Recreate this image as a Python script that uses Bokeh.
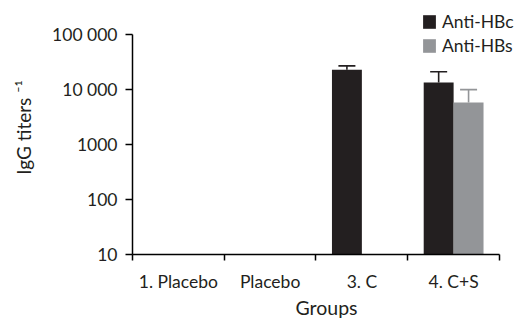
import math
from bokeh.plotting import figure
from bokeh.models import (Range1d, FixedTicker, ColumnDataSource, Whisker, TeeHead,
                          Legend, LegendItem)
from bokeh.embed import file_html
from bokeh.resources import INLINE

groups = ["1. Placebo", "Placebo", "3. C", "4. C+S"]
anti_hbc = [float("nan"), float("nan"), 23000, 13400]
anti_hbc_sd = [float("nan"), float("nan"), 4000, 7700]
anti_hbs = [float("nan"), float("nan"), float("nan"), 5800]
anti_hbs_sd = [float("nan"), float("nan"), float("nan"), 4200]
y_ticks = [10, 100, 1000, 10000, 100000]
y_tick_labels = ["10", "100", "1000", "10 000", "100 000"]

FONT = "Lato"
DARK = "#231f20"
GREY = "#939598"

p = figure(width=520, height=321, output_backend="svg", toolbar_location=None,
           y_axis_type="log", x_range=Range1d(0, 4.229),
           y_range=Range1d(10, 10 ** 5.621),
           min_border_left=132, min_border_right=0, min_border_top=0,
           min_border_bottom=60)
p.outline_line_color = None
p.grid.grid_line_color = None
p.background_fill_color = "white"

centers = [i + 0.5 for i in range(len(groups))]
off = 0.163
w = 0.326
x_hbc = [c - off for c in centers]
x_hbs = [c + off for c in centers]

src_c = ColumnDataSource(dict(x=x_hbc, top=anti_hbc,
                              upper=[v + e for v, e in zip(anti_hbc, anti_hbc_sd)]))
src_s = ColumnDataSource(dict(x=x_hbs, top=anti_hbs,
                              upper=[v + e for v, e in zip(anti_hbs, anti_hbs_sd)]))

r1 = p.vbar(x="x", top="top", bottom=10, width=w, source=src_c,
            fill_color=DARK, line_color=None)
r2 = p.vbar(x="x", top="top", bottom=10, width=w, source=src_s,
            fill_color=GREY, line_color=None)

p.add_layout(Whisker(base="x", lower="top", upper="upper", source=src_c,
                     line_color=DARK, line_width=1.6, lower_head=None,
                     upper_head=TeeHead(size=17, line_color=DARK, line_width=1.6),
                     level="underlay"))
p.add_layout(Whisker(base="x", lower="top", upper="upper", source=src_s,
                     line_color=GREY, line_width=1.6, lower_head=None,
                     upper_head=TeeHead(size=17, line_color=GREY, line_width=1.6),
                     level="underlay"))

# Y axis
ya = p.yaxis[0]
ya.ticker = FixedTicker(ticks=y_ticks)
ya.major_label_overrides = {t: l for t, l in zip(y_ticks, y_tick_labels)}
ya.bounds = (10, 100000)
ya.minor_tick_line_color = None
ya.major_tick_in = 0
ya.major_tick_out = 7
ya.axis_line_width = 1.5
ya.major_tick_line_width = 1.5
ya.axis_line_color = "#000000"
ya.major_tick_line_color = "#000000"
ya.major_label_text_font = FONT
ya.major_label_text_font_size = "17.5px"
ya.major_label_text_color = "#231f20"
ya.major_label_standoff = 8
ya.axis_label = "IgG titers \u207b\u00b9"
ya.axis_label_text_font = FONT
ya.axis_label_text_font_size = "19px"
ya.axis_label_text_font_style = "normal"
ya.axis_label_text_color = "#231f20"
ya.axis_label_standoff = 14

# X axis
xa = p.xaxis[0]
xa.ticker = FixedTicker(ticks=centers, minor_ticks=[0, 1, 2, 3, 4])
xa.major_label_overrides = {c: g for c, g in zip(centers, groups)}
xa.bounds = (0, 4)
xa.major_tick_in = 0
xa.major_tick_out = 0
xa.minor_tick_in = 0
xa.minor_tick_out = 6
xa.minor_tick_line_color = "#000000"
xa.minor_tick_line_width = 1.5
xa.axis_line_width = 1.5
xa.axis_line_color = "#000000"
xa.major_label_text_font = FONT
xa.major_label_text_font_size = "17.5px"
xa.major_label_text_color = "#231f20"
xa.major_label_standoff = 10
xa.axis_label = "Groups"
xa.axis_label_text_font = FONT
xa.axis_label_text_font_size = "19.5px"
xa.axis_label_text_font_style = "normal"
xa.axis_label_text_color = "#231f20"
xa.axis_label_standoff = 1

legend = Legend(items=[LegendItem(label="Anti-HBc", renderers=[r1]),
                       LegendItem(label="Anti-HBs", renderers=[r2])],
                location=(289, 198), glyph_width=16, glyph_height=17,
                label_height=17, label_standoff=5, spacing=3, padding=0,
                margin=0, border_line_color=None, background_fill_alpha=0,
                label_text_font=FONT, label_text_font_size="17.5px",
                label_text_color="#231f20")
p.add_layout(legend)

open("out.html", "w").write(file_html(p, INLINE))
